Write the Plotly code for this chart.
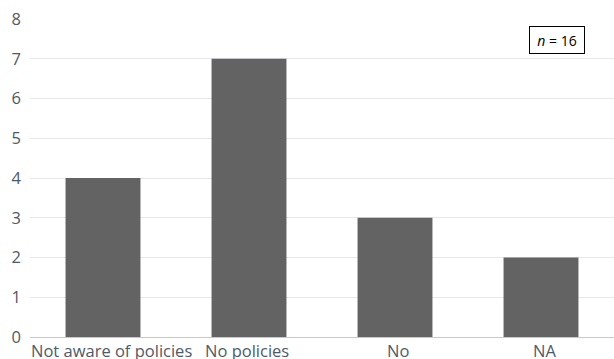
import plotly.graph_objects as go

categories = ["Not aware of policies", "No policies", "No", "NA"]
values = [4, 7, 3, 2]
y_ticks = [0, 1, 2, 3, 4, 5, 6, 7, 8]
label_shift = [8, -2, 3, 3]
n_label = "<i>n</i> = 16"

font_family = "Open Sans, Arial"
text_color = "#4f5a68"

fig = go.Figure()
fig.add_trace(go.Bar(
    x=list(range(len(categories))), y=values,
    marker=dict(color="#636363", line=dict(width=0)),
    width=0.513,
))

for i, (c, s) in enumerate(zip(categories, label_shift)):
    fig.add_annotation(x=i, y=0, xref="x", yref="y", text=c, showarrow=False,
                       yanchor="top", yshift=0, xshift=s,
                       font=dict(family=font_family, size=16.5, color=text_color))

fig.add_annotation(x=0.902, y=0.935, xref="paper", yref="paper", text=n_label,
                   showarrow=False, bordercolor="#000000", borderwidth=1, borderpad=2,
                   width=50, height=22,
                   bgcolor="white", xanchor="center", yanchor="middle",
                   font=dict(family=font_family, size=14, color="#000000"))

fig.update_layout(
    width=614, height=359,
    margin=dict(l=30, r=0, t=19, b=22),
    paper_bgcolor="white", plot_bgcolor="white",
    showlegend=False,
    xaxis=dict(range=[-0.5, 3.5], showticklabels=False, showgrid=False,
               zeroline=False, showline=True, linecolor="#c8c8c8", linewidth=1,
               layer="above traces", fixedrange=True),
    yaxis=dict(range=[0, 8], tickvals=y_ticks, showgrid=True, gridcolor="#e6e6ec",
               gridwidth=1, zeroline=False,
               ticks="", ticklabelstandoff=8,
               tickfont=dict(family=font_family, size=16.5, color=text_color)),
)

fig.write_html("out.html")
